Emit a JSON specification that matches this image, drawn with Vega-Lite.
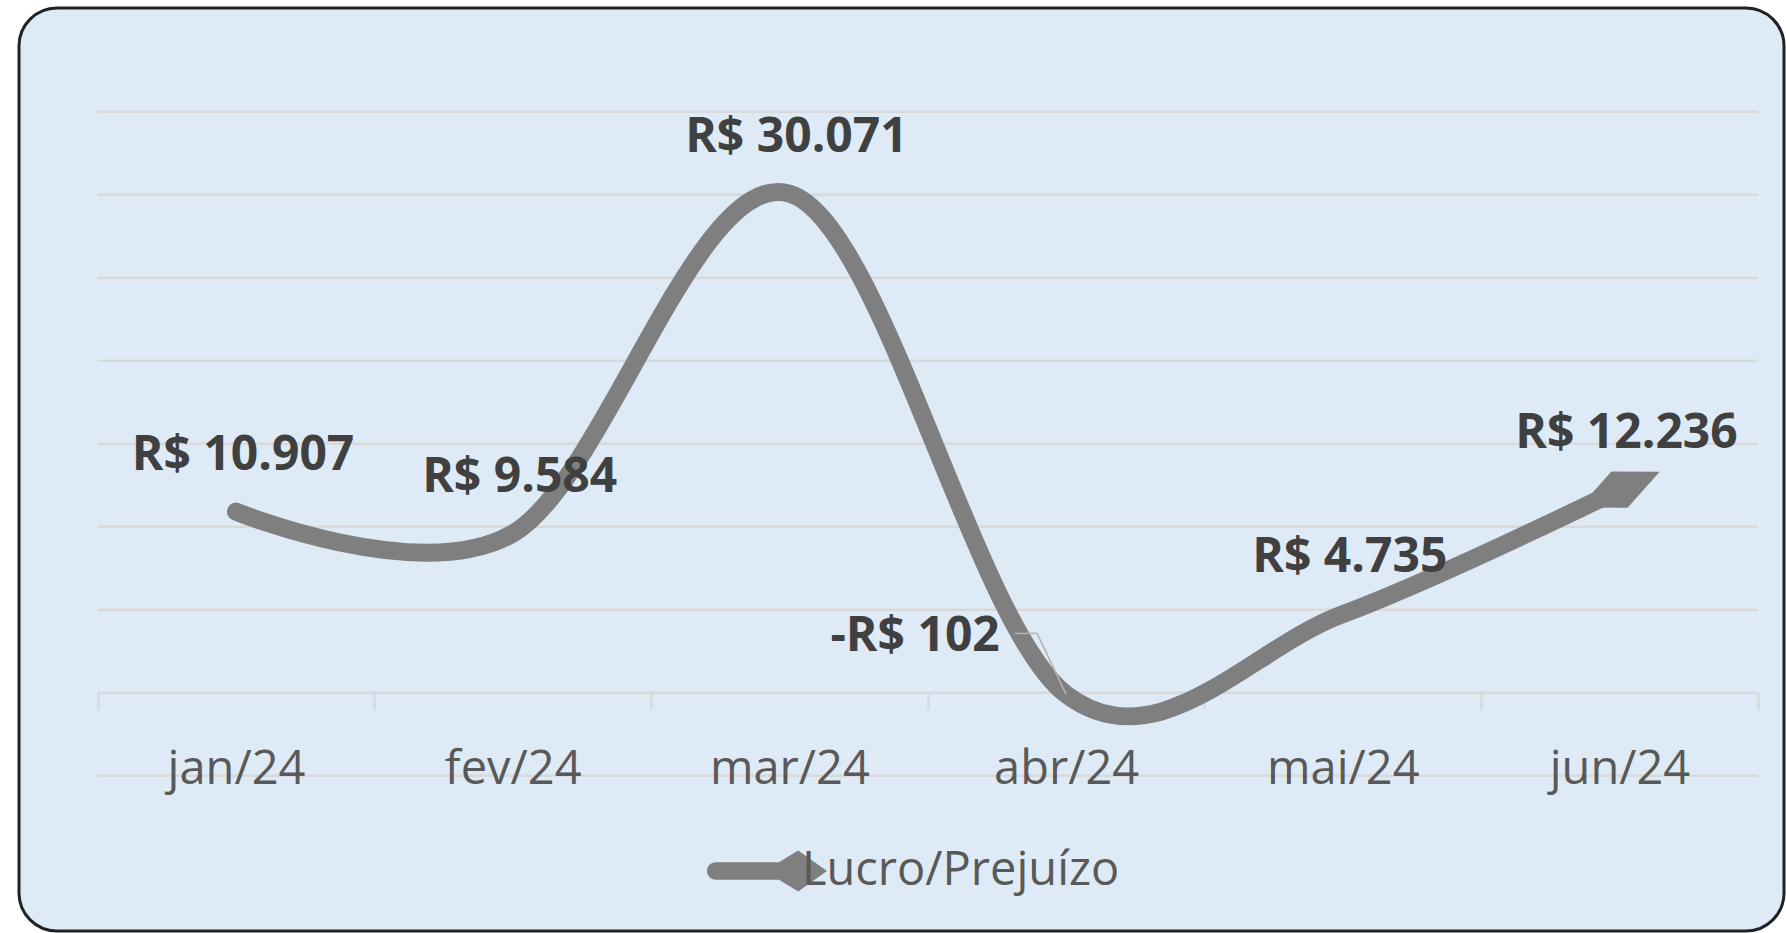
{
  "$schema": "https://vega.github.io/schema/vega-lite/v6.json",
  "width": 1765,
  "height": 923,
  "autosize": "none",
  "padding": {"left": 19, "top": 8, "right": 2, "bottom": 2},
  "background": "white",
  "config": {
    "view": {"fill": "#deebf7", "stroke": "#222222", "strokeWidth": 3, "cornerRadius": 38},
    "locale": {"number": {"decimal": ",", "thousands": ".", "grouping": [3], "currency": ["R$ ", ""], "minus": "-"}},
    "font": "Open Sans"
  },
  "layer": [
    {
      "data": {"values": [{"grade": -5000}, {"grade": 0}, {"grade": 5000}, {"grade": 10000}, {"grade": 15000}, {"grade": 20000}, {"grade": 25000}, {"grade": 30000}, {"grade": 35000}]},
      "mark": {"type": "rule", "color": "#d9d9d9", "strokeWidth": 2.5},
      "encoding": {
        "x": {"datum": 0.5, "type": "quantitative", "scale": {"domain": [0.2157, 6.5944], "nice": false, "zero": false},
          "axis": {"values": [0.5, 1.5, 2.5, 3.5, 4.5, 5.5, 6.5], "orient": "bottom", "offset": -238.3, "domain": false, "labels": false, "grid": false, "ticks": true, "tickSize": 17, "tickWidth": 2.5, "tickColor": "#d9d9d9", "title": null}},
        "x2": {"datum": 6.5},
        "y": {"field": "grade", "type": "quantitative", "scale": {"domain": [-14355, 41247], "nice": false, "zero": false}, "axis": null}
      }
    },
    {
      "data": {"values": [
        {"mes": "jan/24", "valor": 10907},
        {"mes": "fev/24", "valor": 9584},
        {"mes": "mar/24", "valor": 30071},
        {"mes": "abr/24", "valor": -102},
        {"mes": "mai/24", "valor": 4735},
        {"mes": "jun/24", "valor": 12236}
      ]},
      "encoding": {
        "x": {"field": "mes", "type": "ordinal", "sort": null,
          "scale": {"type": "point", "padding": 0.6894, "align": 0.5688},
          "axis": {"orient": "bottom", "offset": -162, "domain": false, "ticks": false, "tickSize": 0, "labelPadding": 0, "labelBaseline": "middle", "labelAngle": 0, "labelFont": "Open Sans", "labelFontSize": 47, "labelColor": "#595959", "title": null, "grid": false, "zindex": 1}},
        "y": {"field": "valor", "type": "quantitative", "scale": {"domain": [-14355, 41247], "nice": false, "zero": false}, "axis": null}
      },
      "layer": [
        {
          "mark": {"type": "line", "interpolate": "cardinal", "strokeWidth": 18, "color": "#7f7f7f", "strokeCap": "round"}
        },
        {
          "transform": [{"filter": "datum.mes === 'jun/24'"}],
          "mark": {"type": "point", "filled": true, "opacity": 1, "shape": "M-1,0L0,-0.45L1,0L0,0.45Z", "size": 7744, "angle": -24, "strokeWidth": 0},
          "encoding": {
            "color": {"datum": "Lucro/Prejuízo", "scale": {"range": ["#7f7f7f"]},
              "legend": {"orient": "none", "legendX": 688, "legendY": 803, "title": null, "direction": "horizontal",
                "symbolType": "M-0.855,-0.145L0.2,-0.145L0.52,-0.34L1,0L0.52,0.34L0.2,0.145L-0.855,0.145A0.145,0.145,0,0,1,-0.855,-0.145Z",
                "symbolSize": 14400, "symbolStrokeWidth": 0, "symbolOpacity": 1, "symbolFillColor": "#7f7f7f",
                "labelFont": "Open Sans", "labelFontSize": 47, "labelColor": "#595959", "labelOffset": -25, "labelLimit": 1000}}
          }
        },
        {
          "transform": [{"filter": "datum.valor >= 0"}],
          "mark": {"type": "text", "font": "Open Sans", "fontWeight": "bold", "fontSize": 48, "color": "#404040", "dx": 7, "dy": -56, "align": "center", "baseline": "middle"},
          "encoding": {"text": {"field": "valor", "type": "quantitative", "format": "$,d"}}
        },
        {
          "transform": [{"filter": "datum.valor < 0"}],
          "mark": {"type": "text", "font": "Open Sans", "fontWeight": "bold", "fontSize": 48, "color": "#404040", "dx": -151, "dy": -57, "align": "center", "baseline": "middle"},
          "encoding": {"text": {"field": "valor", "type": "quantitative", "format": "$,d"}}
        },
        {
          "transform": [{"filter": "datum.valor < 0"}],
          "mark": {"type": "rule", "color": "#b3b3b3", "strokeWidth": 1.5, "xOffset": -29, "yOffset": -61, "x2Offset": 0, "y2Offset": 0},
          "encoding": {"x2": {"field": "mes"}, "y2": {"field": "valor"}}
        },
        {
          "transform": [{"filter": "datum.valor < 0"}],
          "mark": {"type": "rule", "color": "#b3b3b3", "strokeWidth": 1.5, "xOffset": -51, "yOffset": -61, "x2Offset": -29, "y2Offset": -61},
          "encoding": {"x2": {"field": "mes"}, "y2": {"field": "valor"}}
        }
      ]
    }
  ],
  "resolve": {"scale": {"x": "independent"}, "axis": {"x": "independent"}}
}
